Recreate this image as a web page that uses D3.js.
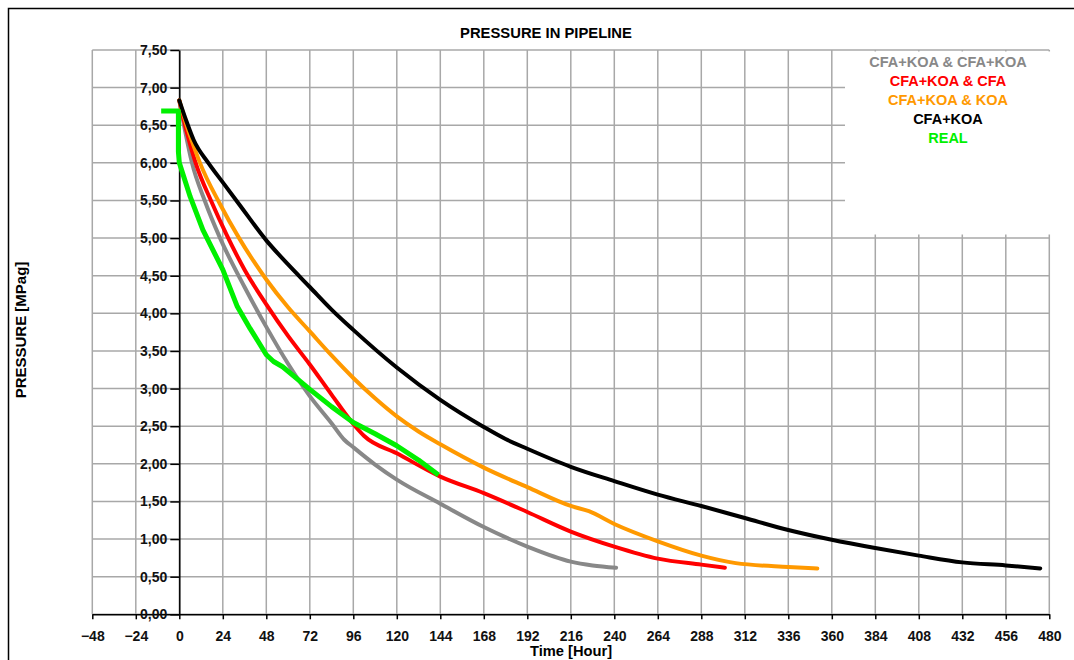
<!DOCTYPE html>
<html>
<head>
<meta charset="utf-8">
<script src="https://cdn.jsdelivr.net/npm/d3@7"></script>
<style>
  body { margin: 0; background: #fff; }
  text { font-family: "Liberation Sans", Arial, sans-serif; }
</style>
</head>
<body>
<script>
// tick values
var xTicks = [-48, -24, 0, 24, 48, 72, 96, 120, 144, 168, 192, 216, 240, 264, 288, 312, 336, 360, 384, 408, 432, 456, 480];
var yTicks = [0, 0.5, 1, 1.5, 2, 2.5, 3, 3.5, 4, 4.5, 5, 5.5, 6, 6.5, 7, 7.5];

// series (hours, MPag)
var greyHours = [0, 3, 7, 14, 22.5, 36, 48, 60, 72, 84, 91, 96, 108, 120, 144, 168, 192, 216, 228, 241];
var greyValues = [6.83, 6.45, 6.0, 5.5, 5.0, 4.35, 3.82, 3.33, 2.9, 2.54, 2.32, 2.22, 1.99, 1.79, 1.47, 1.16, 0.9, 0.7, 0.65, 0.62];

var redHours = [0, 4, 9, 18, 26, 36, 48, 60, 72, 84, 96, 102, 120, 144, 168, 192, 216, 240, 264, 288, 301];
var redValues = [6.83, 6.42, 6.0, 5.47, 5.05, 4.58, 4.12, 3.7, 3.32, 2.92, 2.53, 2.37, 2.14, 1.83, 1.61, 1.36, 1.1, 0.9, 0.74, 0.66, 0.62];

var orangeHours = [0, 4, 8, 11.4, 22.5, 33, 48, 60, 72, 84, 96, 108, 120, 132, 144, 168, 192, 216, 226, 240, 264, 288, 307, 336, 352];
var orangeValues = [6.83, 6.5, 6.22, 6.0, 5.45, 5.0, 4.45, 4.08, 3.76, 3.44, 3.14, 2.87, 2.63, 2.43, 2.26, 1.95, 1.69, 1.44, 1.37, 1.2, 0.97, 0.78, 0.68, 0.63, 0.61];

var blackHours = [0, 4, 8, 16, 24, 33, 48, 60, 72, 84, 96, 120, 144, 168, 180, 192, 216, 240, 264, 288, 312, 336, 360, 384, 408, 432, 456, 475];
var blackValues = [6.83, 6.55, 6.3, 6.0, 5.74, 5.45, 4.97, 4.65, 4.35, 4.05, 3.78, 3.28, 2.85, 2.49, 2.33, 2.2, 1.96, 1.77, 1.59, 1.44, 1.28, 1.12, 0.99, 0.88, 0.78, 0.69, 0.65, 0.61];

var realHours = [-10, -0.5, -0.5, 0, 6, 13, 24, 32, 39, 48, 52, 57, 72, 84, 96, 108, 120, 132, 143];
var realValues = [6.69, 6.69, 6.15, 6.0, 5.55, 5.11, 4.58, 4.09, 3.8, 3.45, 3.36, 3.29, 2.99, 2.76, 2.55, 2.4, 2.24, 2.05, 1.85];

var seriesNames = ["CFA+KOA & CFA+KOA", "CFA+KOA & CFA", "CFA+KOA & KOA", "CFA+KOA", "REAL"];
var seriesColors = ["#888888", "#ff0000", "#ff9900", "#000000", "#00f000"];

var width = 1074, height = 660;

var svg = d3.select("body").append("svg")
    .attr("width", width)
    .attr("height", height);

// outer frame
svg.append("rect")
    .attr("x", 8.5).attr("y", 8.5)
    .attr("width", 1100).attr("height", 700)
    .attr("fill", "none")
    .attr("stroke", "#000")
    .attr("stroke-width", 1.5);

var x = d3.scaleLinear().domain([-48, 480]).range([92.3, 1049.3]);
var y = d3.scaleLinear().domain([0, 7.5]).range([614.3, 50]);

// grid
var grid = svg.append("g").attr("stroke", "#a8a8a8").attr("stroke-width", 1.5);
grid.selectAll(".vg").data(xTicks).enter().append("line")
    .attr("x1", function(d) { return x(d); })
    .attr("x2", function(d) { return x(d); })
    .attr("y1", y(7.5)).attr("y2", y(0));
grid.selectAll(".hg").data(yTicks).enter().append("line")
    .attr("x1", x(-48)).attr("x2", x(480))
    .attr("y1", function(d) { return y(d); })
    .attr("y2", function(d) { return y(d); });

// white box behind the legend
svg.append("rect")
    .attr("x", 845).attr("y", 51.5)
    .attr("width", 210).attr("height", 183)
    .attr("fill", "#fff");

var fmt = function(d) { return d3.format(".2f")(d).replace(".", ","); };

// x axis
var xAxis = svg.append("g")
    .attr("transform", "translate(0," + y(0) + ")")
    .call(d3.axisBottom(x).tickValues(xTicks).tickSizeInner(5).tickSizeOuter(0).tickPadding(12));
// y axis on hour 0
var yAxis = svg.append("g")
    .attr("transform", "translate(" + x(0) + ",0)")
    .call(d3.axisLeft(y).tickValues(yTicks).tickFormat(fmt).tickSizeInner(9).tickSizeOuter(0).tickPadding(3));

[xAxis, yAxis].forEach(function(a) {
  a.selectAll("path").attr("stroke", "#000").attr("stroke-width", 1.5);
  a.selectAll("line").attr("stroke", "#000").attr("stroke-width", 1.5);
  a.selectAll("text")
    .attr("fill", "#111")
    .style("font-family", "'Liberation Sans', Arial, sans-serif")
    .style("font-size", "14px")
    .style("font-weight", "bold");
});

// curves
var line = d3.line()
    .x(function(d) { return x(d[0]); })
    .y(function(d) { return y(d[1]); })
    .curve(d3.curveMonotoneX);

var series = [
  d3.zip(greyHours, greyValues),
  d3.zip(redHours, redValues),
  d3.zip(orangeHours, orangeValues),
  d3.zip(blackHours, blackValues)
];

series.forEach(function(s, i) {
  svg.append("path")
      .datum(s)
      .attr("d", line)
      .attr("fill", "none")
      .attr("stroke", seriesColors[i])
      .attr("stroke-width", 4)
      .attr("stroke-linejoin", "round")
      .attr("stroke-linecap", "round");
});

svg.append("path")
    .datum(d3.zip(realHours, realValues))
    .attr("d", line.curve(d3.curveLinear))
    .attr("fill", "none")
    .attr("stroke", seriesColors[4])
    .attr("stroke-width", 5)
    .attr("stroke-linejoin", "round");

// legend
svg.selectAll(".legend").data(seriesNames).enter().append("text")
    .attr("x", 948)
    .attr("y", function(d, i) { return 67 + i * 19; })
    .attr("text-anchor", "middle")
    .attr("fill", function(d, i) { return seriesColors[i]; })
    .style("font-size", "14.5px")
    .style("font-weight", "bold")
    .text(function(d) { return d; });

// titles
svg.append("text")
    .attr("x", 546).attr("y", 38)
    .attr("text-anchor", "middle")
    .style("font-size", "14.8px")
    .style("font-weight", "bold")
    .text("PRESSURE IN PIPELINE");

svg.append("text")
    .attr("x", 571).attr("y", 656)
    .attr("text-anchor", "middle")
    .style("font-size", "14.7px")
    .style("font-weight", "bold")
    .text("Time [Hour]");

svg.append("text")
    .attr("transform", "translate(26,330) rotate(-90)")
    .attr("text-anchor", "middle")
    .style("font-size", "15px")
    .style("font-weight", "bold")
    .text("PRESSURE [MPag]");
</script>
</body>
</html>
